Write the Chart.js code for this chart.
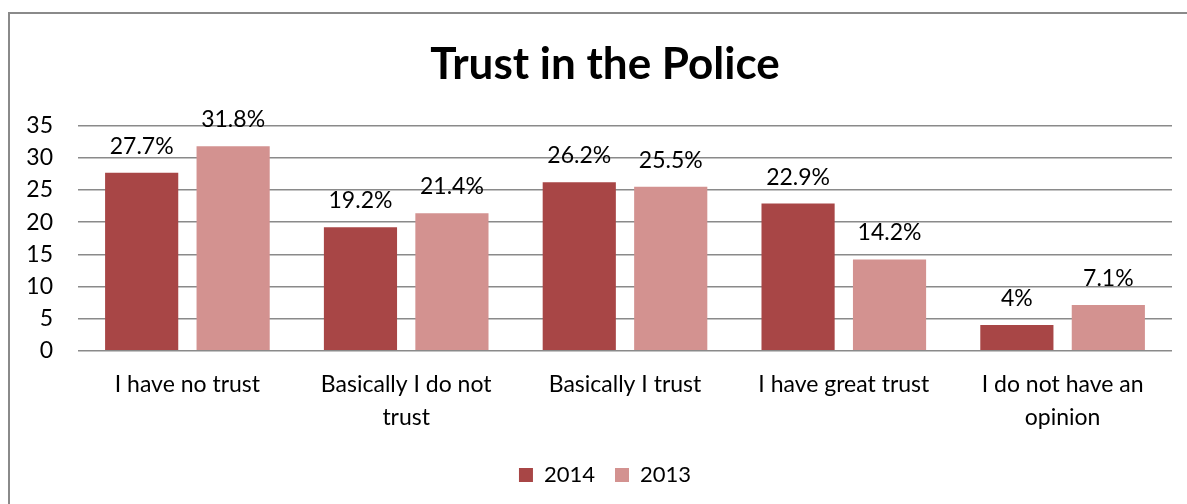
<!DOCTYPE html>
<html><head><meta charset="utf-8">
<script src="https://cdn.jsdelivr.net/npm/chart.js@4.4.0/dist/chart.umd.min.js"></script>
<style>
html,body{margin:0;padding:0;background:#fff;overflow:hidden;}
canvas{display:block;}
</style></head>
<body>
<canvas id="c" width="1187" height="504"></canvas>
<script>
const categories = [["I have no trust"], ["Basically I do not","trust"], ["Basically I trust"], ["I have great trust"], ["I do not have an","opinion"]];
const values2014 = [27.7, 19.2, 26.2, 22.9, 4];
const values2013 = [31.8, 21.4, 25.5, 14.2, 7.1];
const seriesNames = ["2014", "2013"];
const FONT = "Lato, 'Noto Sans', sans-serif";

const framePlugin = {
  id: 'frame',
  beforeDraw(chart) {
    const ctx = chart.ctx;
    ctx.save();
    ctx.strokeStyle = '#8a8a8a';
    ctx.lineWidth = 2;
    ctx.beginPath();
    ctx.moveTo(9, chart.height + 5);
    ctx.lineTo(9, 13);
    ctx.lineTo(chart.width + 5, 13);
    ctx.stroke();
    ctx.restore();
  }
};

const labelPlugin = {
  id: 'valLabels',
  afterDatasetsDraw(chart) {
    const ctx = chart.ctx;
    ctx.save();
    ctx.font = "23px " + FONT;
    ctx.fillStyle = "#000";
    ctx.textAlign = "center";
    ctx.textBaseline = "alphabetic";
    chart.data.datasets.forEach((ds, i) => {
      chart.getDatasetMeta(i).data.forEach((bar, j) => {
        ctx.fillText(ds.data[j] + "%", bar.x, bar.y - 19);
      });
    });
    ctx.restore();
  }
};

new Chart(document.getElementById('c'), {
  type: 'bar',
  data: {
    labels: categories,
    datasets: [
      {label: seriesNames[0], data: values2014, backgroundColor: '#A84646', categoryPercentage: 0.836, barPercentage: 0.8},
      {label: seriesNames[1], data: values2013, backgroundColor: '#D39290', categoryPercentage: 0.836, barPercentage: 0.8}
    ]
  },
  options: {
    responsive: false,
    animation: false,
    layout: {padding: {top: 28, right: 0, left: 23, bottom: 8}},
    plugins: {
      title: {display: true, text: 'Trust in the Police', color: '#000', font: {family: FONT, size: 44, weight: 'bold'}, padding: {top: 10, bottom: 35}},
      legend: {position: 'bottom', labels: {color: '#000', font: {family: FONT, size: 22}, boxWidth: 14, boxHeight: 14, padding: 20}},
      tooltip: {enabled: false}
    },
    scales: {
      x: {
        grid: {display: false},
        border: {display: false},
        ticks: {color: '#000', font: {family: FONT, size: 23, lineHeight: 1.42}, maxRotation: 0, padding: 10}
      },
      y: {
        min: 0, max: 35,
        ticks: {stepSize: 5, color: '#000', font: {family: FONT, size: 23}, padding: 25},
        grid: {color: '#8a8a8a', lineWidth: 1.5, drawTicks: false},
        border: {display: false},
        afterFit: s => { s.width = 55; }
      },
      yRight: {
        position: 'right',
        min: 0, max: 35,
        grid: {display: false},
        border: {display: false},
        ticks: {display: false},
        afterFit: s => { s.width = 15; }
      }
    }
  },
  plugins: [framePlugin, labelPlugin]
});
</script>
</body></html>
